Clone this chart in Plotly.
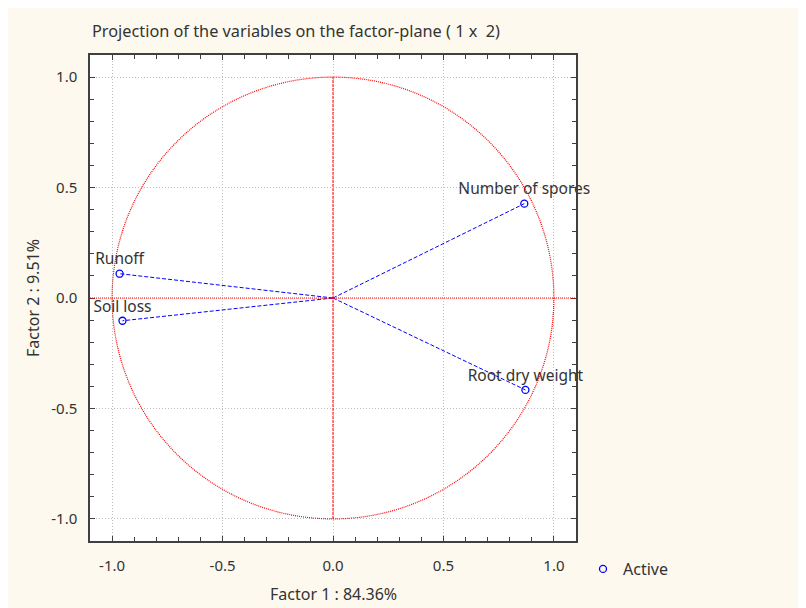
import plotly.graph_objects as go

# Data
variables = ["Number of spores", "Root dry weight", "Runoff", "Soil loss"]
factor1 = [0.866, 0.871, -0.966, -0.953]
factor2 = [0.427, -0.416, 0.110, -0.103]
x_ticks = [-1.0, -0.5, 0.0, 0.5, 1.0]
y_ticks = [-1.0, -0.5, 0.0, 0.5, 1.0]
title_text = "Projection of the variables on the factor-plane ( 1 x  2)"
x_title = "Factor 1 : 84.36%"
y_title = "Factor 2 : 9.51%"
legend_name = "Active"

BG = "#FEF9EE"
FONT = "Noto Sans"
AX = "#404040"
TXT = "#333333"
OX, OY = 8, 8  # page body margin
W, H = 806 - OX, 608 - OY
L, T = 90 - OX, 55 - OY
R = W - (576 - OX)
B = H - (541 - OY)
PW, PH = W - L - R, H - T - B

# vectors from origin
lx, ly = [], []
for a, b in zip(factor1, factor2):
    lx += [0, a, None]
    ly += [0, b, None]

fig = go.Figure()
fig.add_trace(go.Scatter(x=lx, y=ly, mode="lines", showlegend=False,
                         line=dict(color="#0000FF", width=1, dash="4px,2px"),
                         hoverinfo="skip"))
fig.add_trace(go.Scatter(x=factor1, y=factor2, mode="markers+text", name=legend_name,
                         text=variables, textposition="top center", cliponaxis=False,
                         textfont=dict(family=FONT, size=15.5, color=TXT),
                         marker=dict(symbol="circle-open", size=7, color="#0000FF",
                                     line=dict(width=1.3, color="#0000FF"))))

shapes = [
    dict(type="circle", xref="x", yref="y", x0=-1, x1=1, y0=-1, y1=1,
         line=dict(color="red", width=1.2, dash="1px,1px"), layer="above"),
    dict(type="line", xref="x", yref="y", x0=0, x1=0, y0=-1, y1=1,
         line=dict(color="red", width=1, dash="3px,1px"), layer="above"),
    dict(type="line", xref="paper", yref="y", x0=0, x1=1, y0=0, y1=0,
         line=dict(color="red", width=1, dash="1px,1px"), layer="above"),
]

axis_common = dict(
    range=[-1.1, 1.1], tickvals=x_ticks, ticktext=[f"{v:.1f}" for v in x_ticks],
    ticks="inside", ticklen=5, tickwidth=1, tickcolor=AX,
    showline=True, linecolor=AX, linewidth=1.5, mirror="ticks",
    showgrid=True, gridcolor="#BDBDBD", griddash="1px,2px", gridwidth=1,
    zeroline=False, tickfont=dict(family=FONT, size=15, color=TXT),
    minor=dict(dtick=0.1, tick0=0, ticks="inside", ticklen=4, tickcolor=AX, showgrid=False),
    fixedrange=True,
)

fig.update_layout(
    width=W, height=H, paper_bgcolor=BG, plot_bgcolor="white",
    margin=dict(l=L, r=R, t=T, b=B, autoexpand=False),
    font=dict(family=FONT, size=15, color=TXT),
    title=dict(text=title_text, x=(92 - OX) / W, xref="container", xanchor="left",
               y=1 - (31 - OY) / H, yanchor="middle", font=dict(family=FONT, size=16.3, color=TXT)),
    xaxis=dict(axis_common, ticklabelstandoff=10),
    yaxis=dict(axis_common, tickvals=y_ticks, ticktext=[f"{v:.1f}" for v in y_ticks],
               ticklabelstandoff=8),
    shapes=shapes,
    showlegend=True,
    legend=dict(x=(583 - 90) / PW, y=-(569 - 541) / PH, xanchor="left", yanchor="middle",
                bgcolor="rgba(0,0,0,0)", font=dict(family=FONT, size=16, color=TXT)),
    annotations=[
        dict(text=x_title, xref="paper", yref="paper", x=0.5, y=-(594 - 541) / PH,
             showarrow=False, xanchor="center", yanchor="middle",
             font=dict(family=FONT, size=16, color=TXT)),
        dict(text=y_title, xref="paper", yref="paper", x=-(90 - 33) / PW, y=0.5,
             showarrow=False, textangle=-90, xanchor="center", yanchor="middle",
             font=dict(family=FONT, size=16, color=TXT)),
    ],
)

fig.write_html("out.html")
